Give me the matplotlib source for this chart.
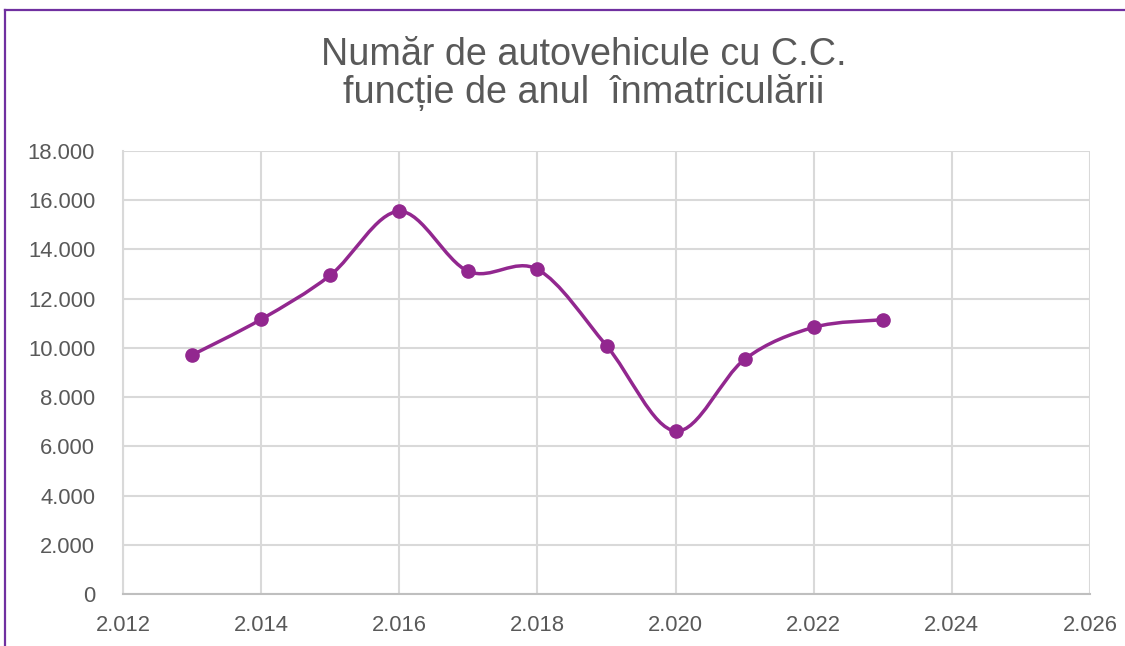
import matplotlib
matplotlib.use("Agg")
import matplotlib.pyplot as plt
from matplotlib.path import Path
from matplotlib.patches import PathPatch
from matplotlib.lines import Line2D
from matplotlib.ticker import FuncFormatter, MultipleLocator
import numpy as np

years = [2013, 2014, 2015, 2016, 2017, 2018, 2019, 2020, 2021, 2022, 2023]
values = [9710, 11160, 12950, 15550, 13110, 13190, 10090, 6620, 9535, 10835, 11145]
title = "Număr de autovehicule cu C.C.\nfuncție de anul  înmatriculării"

plt.rcParams['font.family'] = ['Liberation Sans', 'DejaVu Sans']
W, H = 1125, 646
fig = plt.figure(figsize=(W / 100, H / 100), dpi=100)
ax = fig.add_axes([123 / W, 1 - 594 / H, (1090 - 123) / W, (594 - 151) / H])

color = '#92278F'
grid = '#D9D9D9'
txt = '#595959'

# smooth (Excel-like) curve through the points via cubic Bezier segments
x = np.array(years, dtype=float)
y = np.array(values, dtype=float)
n = len(x)
verts = [(x[0], y[0])]
codes = [Path.MOVETO]
for i in range(n - 1):
    p0 = np.array([x[max(i - 1, 0)], y[max(i - 1, 0)]])
    p1 = np.array([x[i], y[i]])
    p2 = np.array([x[i + 1], y[i + 1]])
    p3 = np.array([x[min(i + 2, n - 1)], y[min(i + 2, n - 1)]])
    c1 = p1 + (p2 - p0) / 6.0
    c2 = p2 - (p3 - p1) / 6.0
    verts += [tuple(c1), tuple(c2), tuple(p2)]
    codes += [Path.CURVE4, Path.CURVE4, Path.CURVE4]
patch = PathPatch(Path(verts, codes), facecolor='none', edgecolor=color, lw=2.5,
                  zorder=3, capstyle='round', joinstyle='round')
ax.add_patch(patch)
ax.plot(years, values, linestyle='none', marker='o', markersize=9.5, color=color, zorder=4)

ax.set_xlim(2012, 2026)
ax.set_ylim(0, 18000)
ax.xaxis.set_major_locator(MultipleLocator(2))
ax.yaxis.set_major_locator(MultipleLocator(2000))

def fmt(v, pos):
    s = f"{int(round(v)):,}".replace(",", ".")
    return s

ax.xaxis.set_major_formatter(FuncFormatter(fmt))
ax.yaxis.set_major_formatter(FuncFormatter(fmt))

ax.grid(True, color=grid, lw=1.5, zorder=0)
ax.set_axisbelow(True)
for s in ['top', 'right']:
    ax.spines[s].set_visible(False)
ax.spines['left'].set_color(grid)
ax.spines['left'].set_linewidth(1.5)
ax.spines['bottom'].set_color('#BFBFBF')
ax.spines['bottom'].set_linewidth(1.5)
ax.tick_params(axis='both', length=0, labelsize=15.8, labelcolor=txt)
ax.tick_params(axis='y', pad=20)
ax.tick_params(axis='x', pad=15)

fig.text(584 / W, 1 - 74 / H, title, ha='center', va='center', fontsize=27.2,
         color=txt, linespacing=1.03)

# purple outer frame (partially visible)
fig.add_artist(Line2D([5 / W, 5 / W], [0, 1 - 10 / H], color='#7030A0', lw=1.6,
                      transform=fig.transFigure))
fig.add_artist(Line2D([5 / W, 1], [1 - 10 / H, 1 - 10 / H], color='#7030A0', lw=1.6,
                      transform=fig.transFigure))

fig.savefig('out.png', dpi=100)
